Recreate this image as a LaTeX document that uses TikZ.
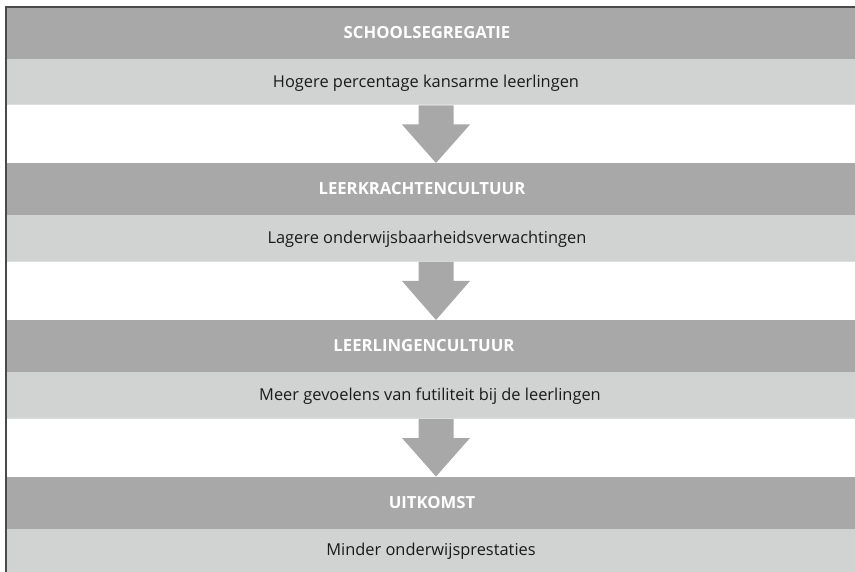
\documentclass[tikz,border=0pt]{standalone}
\usepackage{fontspec}
\setmainfont{Open Sans}
\usetikzlibrary{calc}
\definecolor{darkband}{HTML}{A8A8A8}
\definecolor{lightband}{HTML}{D1D3D2}
\definecolor{stripecol}{HTML}{DCDEDD}
\definecolor{framecol}{HTML}{4A4A4A}
\definecolor{bodytext}{HTML}{1A1A1A}
\tikzset{
  bandbase/.style={rectangle, inner sep=0pt, outer sep=0pt, minimum width=848pt, draw=none},
  darkbox/.style={bandbase, fill=darkband, minimum height=52.5pt},
  lightbox/.style={bandbase, fill=lightband, minimum height=46.5pt},
  headtext/.style={inner sep=0pt, text=white, font=\fontsize{16.7}{19}\selectfont\bfseries},
  bodytxt/.style={inner sep=0pt, text=bodytext, font=\fontsize{16.4}{19}\selectfont},
  flowarrow/.style={fill=darkband, draw=none},
  stripe/.style={draw=stripecol, line width=1.2pt},
  frameline/.style={draw=framecol, line width=1.5pt}
}
\begin{document}
\begin{tikzpicture}[x=1pt,y=-1pt]
\useasboundingbox (0,0) rectangle (855,572);
% bands
\node[darkbox]  (d1) at (431, 32.75) {};
\node[lightbox] (l1) at (431, 82.25) {};
\node[darkbox]  (d2) at (431, 189.25) {};
\node[lightbox] (l2) at (431, 238.75) {};
\node[darkbox]  (d3) at (431, 346.25) {};
\node[lightbox] (l3) at (431, 395.75) {};
\node[darkbox]  (d4) at (431, 502.75) {};
\node[lightbox] (l4) at (431, 552.25) {};
% bottom stripes of light bands
\foreach \b in {l1,l2,l3}
  \draw[stripe] ([yshift=0.6pt]\b.south west) -- ([yshift=0.6pt]\b.south east);
% texts
\node[headtext] (t1) at (427, 32.5) {SCHOOLSEGREGATIE};
\node[bodytxt]  (s1) at (426, 83) {Hogere percentage kansarme leerlingen};
\node[headtext] (t2) at (422, 189) {LEERKRACHTENCULTUUR};
\node[bodytxt]  (s2) at (427, 239.5) {Lagere onderwijsbaarheidsverwachtingen};
\node[headtext] (t3) at (424, 346) {LEERLINGENCULTUUR};
\node[bodytxt]  (s3) at (430, 396) {Meer gevoelens van futiliteit bij de leerlingen};
\node[headtext] (t4) at (432, 502.5) {UITKOMST};
\node[bodytxt]  (s4) at (431, 551) {Minder onderwijsprestaties};
% arrows
\foreach \a/\b in {l1/d2, l2/d3, l3/d4}
  \fill[flowarrow] let \p1=(\a.south), \p2=(\b.north) in
    (418.5pt,\y1) -- (418.5pt,\y1-19pt) -- (402pt,\y1-19pt) -- (436pt,\y2)
    -- (470pt,\y1-19pt) -- (453.5pt,\y1-19pt) -- (453.5pt,\y1) -- cycle;
% frame
\draw[frameline] (855,7) -- (6,7) -- (6,572);
\end{tikzpicture}
\end{document}
